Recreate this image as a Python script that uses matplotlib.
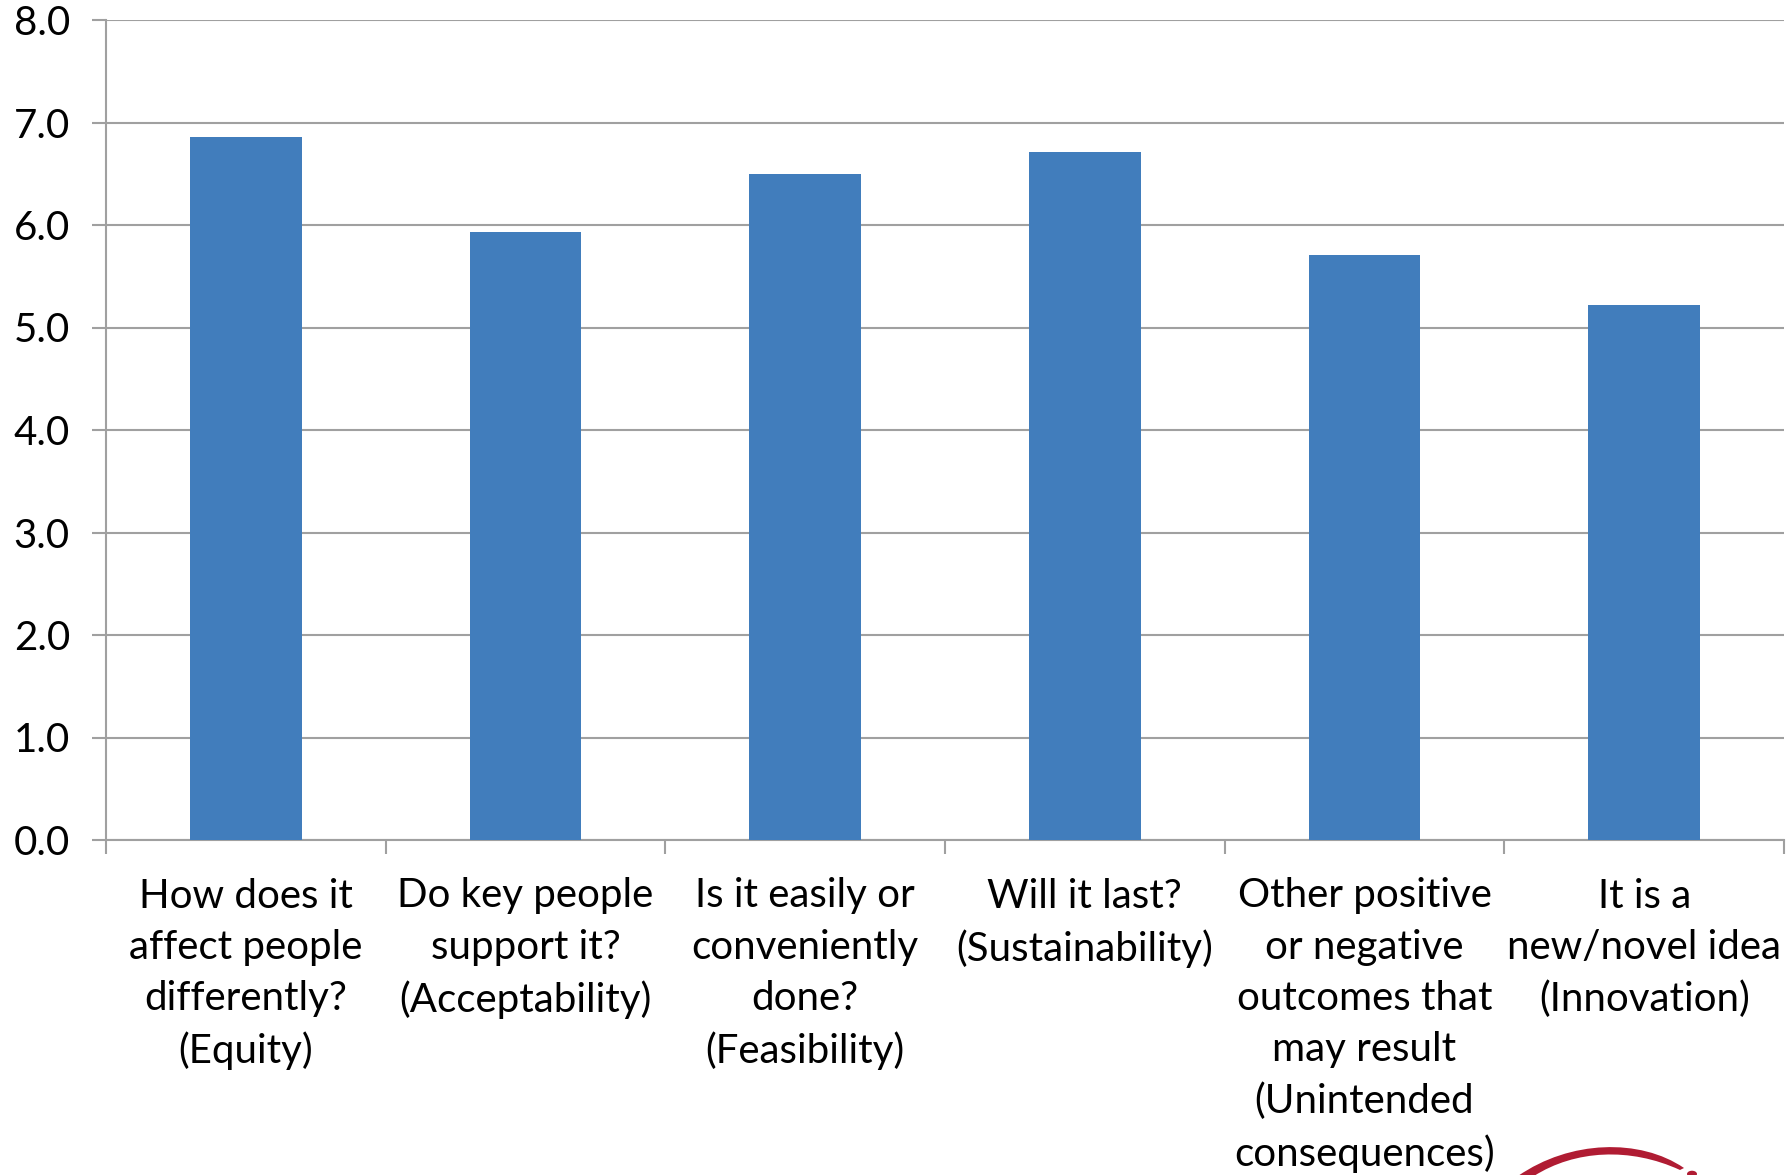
import matplotlib.pyplot as plt
import matplotlib.patches as mpatches
from matplotlib.path import Path
import numpy as np

plt.rcParams['font.family'] = ['Lato', 'DejaVu Sans']

# Data
categories = [
    "How does it\naffect people\ndifferently?\n(Equity)",
    "Do key people\nsupport it?\n(Acceptability)",
    "Is it easily or\nconveniently\ndone?\n(Feasibility)",
    "Will it last?\n(Sustainability)",
    "Other positive\nor negative\noutcomes that\nmay result\n(Unintended\nconsequences)",
    "It is a\nnew/novel idea\n(Innovation)",
]
scores = [6.86, 5.93, 6.50, 6.71, 5.71, 5.22]
y_ticks = [0, 1, 2, 3, 4, 5, 6, 7, 8]

BAR_COLOR = '#417DBC'
GRID_COLOR = '#A0A0A0'

W, H = 1790, 1175
fig = plt.figure(figsize=(W / 100, H / 100), dpi=100)
# plot area in pixels: left 106, right 1784, top 20, bottom 840
ax = fig.add_axes([106 / W, 1 - 840 / H, (1784 - 106) / W, (840 - 20) / H])

x = np.arange(len(categories))
ax.bar(x, scores, width=0.4, color=BAR_COLOR, zorder=3)

ax.set_xlim(-0.5, len(categories) - 0.5)
ax.set_ylim(0, 8)
ax.set_yticks(y_ticks)
ax.set_yticklabels([f"{v:.1f}" for v in y_ticks])
ax.yaxis.grid(True, color=GRID_COLOR, linewidth=1.5, zorder=0)
ax.set_axisbelow(True)

# boundary ticks (no labels) and centred category labels
ax.set_xticks(np.arange(len(categories) + 1) - 0.5)
ax.set_xticklabels([])
ax.set_xticks(x, minor=True)
ax.set_xticklabels(categories, minor=True, fontsize=29, linespacing=1.47, va='top')
ax.tick_params(axis='x', which='major', length=10, width=1.5, color=GRID_COLOR)
ax.tick_params(axis='x', which='minor', length=0, pad=27)
ax.tick_params(axis='y', length=10, width=1.5, color=GRID_COLOR, labelsize=29, pad=16)

for side in ['top', 'right']:
    ax.spines[side].set_visible(False)
for side in ['left', 'bottom']:
    ax.spines[side].set_color(GRID_COLOR)
    ax.spines[side].set_linewidth(1.5)

# partial red swoosh of the logo at bottom right (figure pixels)
def px(xp, yp):
    return (xp / W, 1 - yp / H)

verts = [px(1518, 1176), px(1570, 1140), px(1640, 1138), px(1684, 1168),
         px(1680, 1170), px(1630, 1147), px(1575, 1150), px(1534, 1176),
         px(1518, 1176)]
codes = [Path.MOVETO, Path.CURVE4, Path.CURVE4, Path.CURVE4,
         Path.LINETO, Path.CURVE4, Path.CURVE4, Path.CURVE4, Path.CLOSEPOLY]
fig.patches.append(mpatches.PathPatch(Path(verts, codes), transform=fig.transFigure,
                                      facecolor='#B01C33', edgecolor='none'))
fig.patches.append(mpatches.Circle(px(1692, 1174), 5 / W, transform=fig.transFigure,
                                   facecolor='#B01C33', edgecolor='none'))

fig.savefig('out.png', dpi=100)
